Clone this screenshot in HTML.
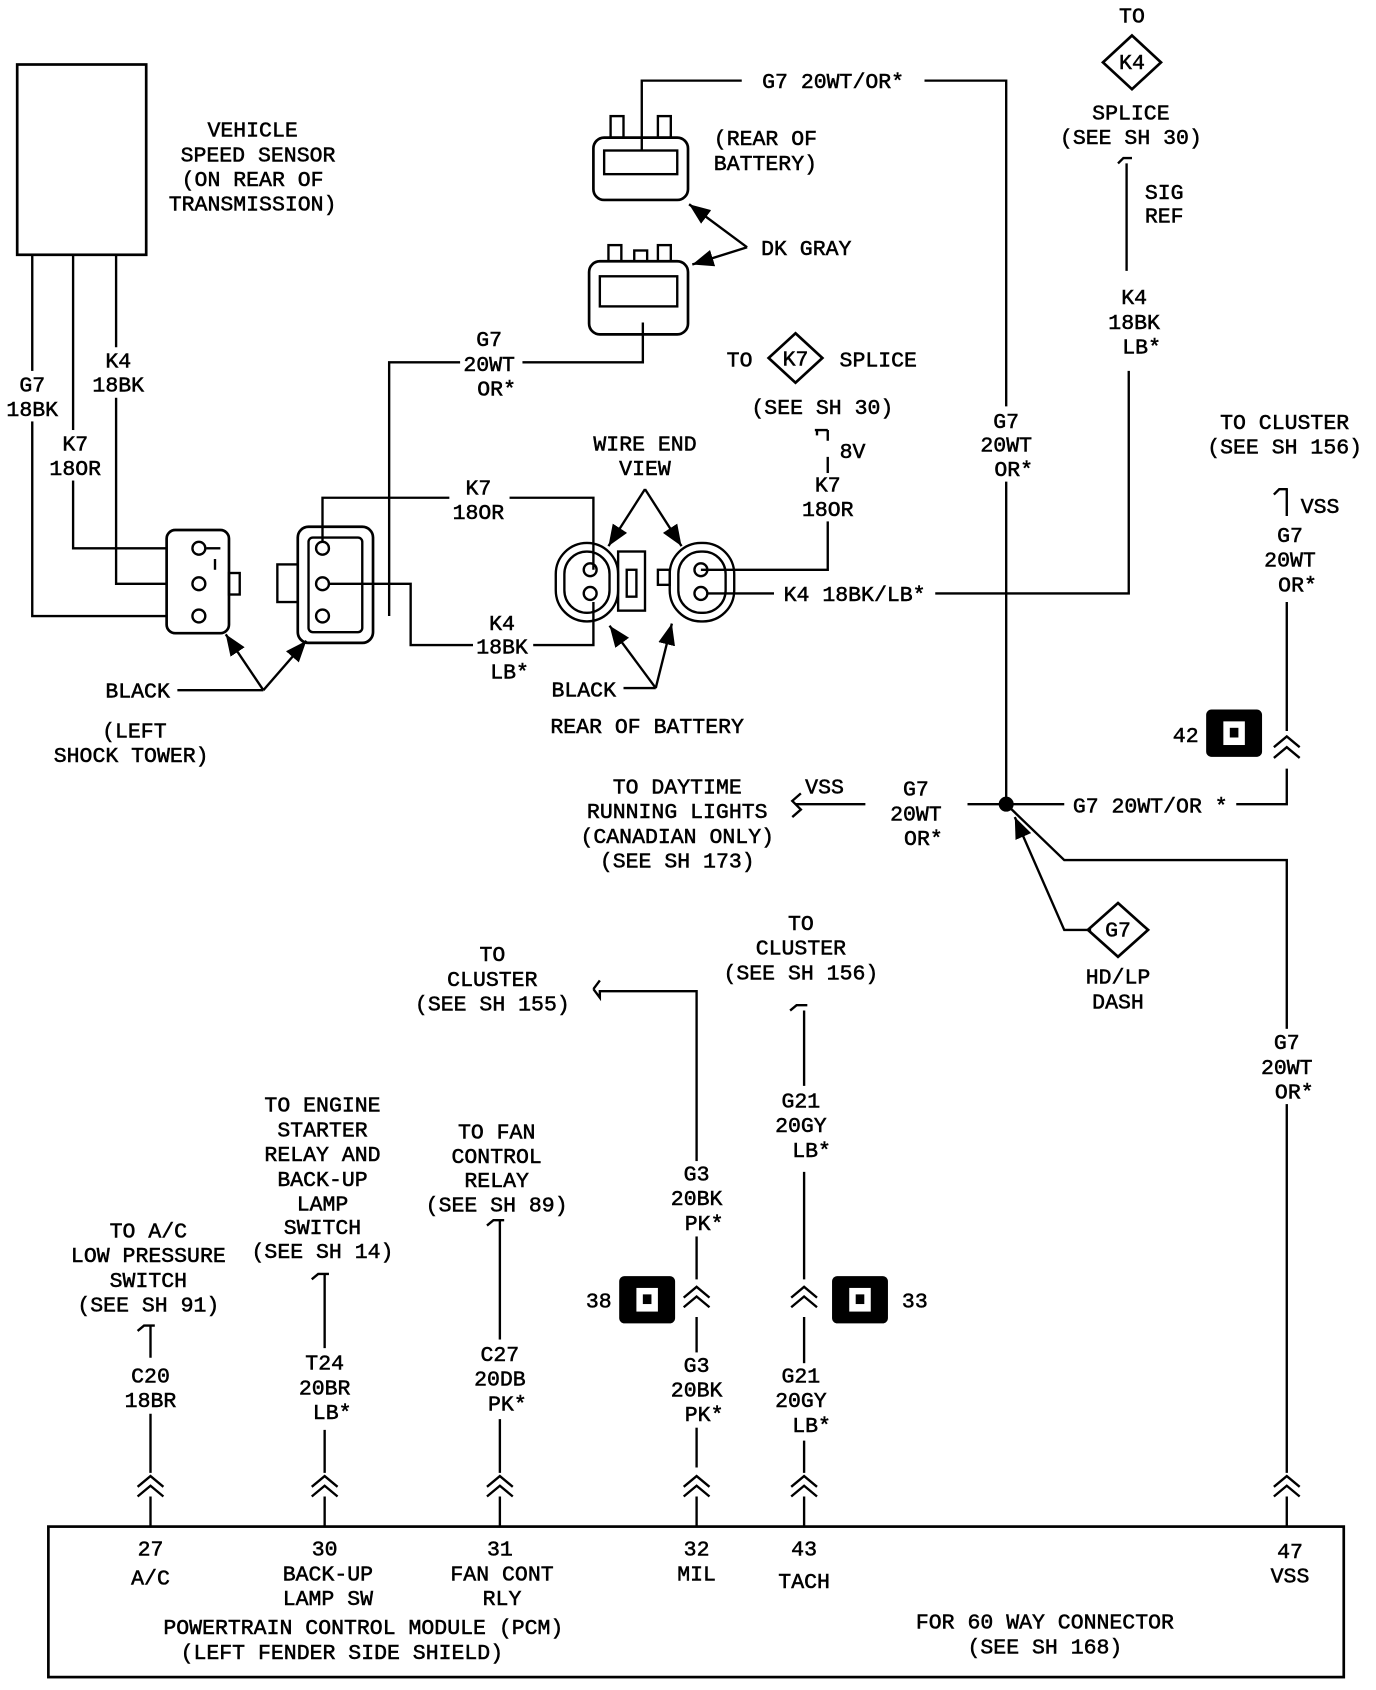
<!DOCTYPE html>
<html><head><meta charset="utf-8"><style>
html,body{margin:0;padding:0;background:#fff;}
svg{display:block}
text{font-family:"Liberation Mono","DejaVu Sans Mono",monospace;font-size:20px;fill:#000;text-anchor:middle;stroke:#000;stroke-width:0.5;}
</style></head><body>
<svg width="1376" height="1690" viewBox="0 0 1280 1572" preserveAspectRatio="none" xmlns="http://www.w3.org/2000/svg">
<defs>
<marker id="a" viewBox="0 0 10 10" refX="10" refY="5" markerWidth="9" markerHeight="9" orient="auto-start-reverse"><path d="M0,1 L10,5 L0,9 z" fill="#000"/></marker>
</defs>
<g fill="none" stroke="#000" stroke-width="2.2">
<rect x="16" y="60" width="120" height="177" stroke-width="2.5"/>
<polyline points="30,237 30,573 155,573"/>
<polyline points="68,237 68,510 155,510"/>
<polyline points="108,237 108,543 155,543"/>
<rect x="155" y="493" width="58" height="96" rx="8" stroke-width="2.5"/>
<circle cx="185" cy="510" r="6"/><circle cx="185" cy="543" r="6"/><circle cx="185" cy="573" r="6"/>
<polyline points="192,510 205,510"/><rect x="213" y="533" width="10" height="20"/><line x1="200" y1="520" x2="200" y2="530"/>
<rect x="277" y="490" width="70" height="108" rx="10" stroke-width="2.5"/>
<rect x="287" y="500" width="50" height="88" rx="4"/>
<rect x="258" y="525" width="19" height="35"/>
<circle cx="300" cy="510" r="6"/><circle cx="300" cy="543" r="6"/><circle cx="300" cy="573" r="6"/>
<polyline points="300,504 300,463 552,463 552,530"/>
<polyline points="306,543 382,543 382,600 552,600 552,560"/>
<polyline points="362,573 362,337 598,337 598,300"/>
<rect x="552" y="128" width="88" height="58" rx="10" stroke-width="2.5"/>
<rect x="562" y="140" width="68" height="22"/>
<rect x="568" y="108" width="12" height="20"/><rect x="612" y="108" width="12" height="20"/>
<rect x="548" y="243" width="92" height="68" rx="10" stroke-width="2.5"/>
<rect x="558" y="257" width="72" height="28"/>
<rect x="566" y="228" width="12" height="15"/><rect x="612" y="228" width="12" height="15"/><rect x="590" y="233" width="12" height="10"/>
<polyline points="597,140 597,75 690,75"/>
<polyline points="860,75 936,75 936,748"/>
<line x1="695" y1="230" x2="641" y2="190" marker-end="url(#a)"/>
<line x1="695" y1="230" x2="644" y2="246" marker-end="url(#a)"/>
<polygon points="740,310 765,333 740,356 715,333" stroke-width="2.5"/>
<path d="M758,400 h12 M770,400 v10 M770,425 v105 H680"/>
<line x1="760" y1="400" x2="760" y2="405"/>
<rect x="517" y="505" width="58" height="73" rx="29"/>
<rect x="525" y="513" width="42" height="57" rx="21"/>
<rect x="575" y="513" width="25" height="55"/>
<rect x="583" y="530" width="9" height="25"/>
<rect x="623" y="505" width="60" height="73" rx="29"/>
<rect x="631" y="513" width="44" height="57" rx="21"/>
<rect x="612" y="530" width="11" height="14"/>
<circle cx="549" cy="530" r="6"/><circle cx="549" cy="552" r="6"/>
<circle cx="652" cy="530" r="6"/><circle cx="652" cy="552" r="6"/>
<line x1="600" y1="455" x2="566" y2="508" marker-end="url(#a)"/>
<line x1="600" y1="455" x2="634" y2="508" marker-end="url(#a)"/>
<polyline points="652,530 680,530"/>
<polyline points="658,552 720,552"/>
<polyline points="870,552 1050,552 1050,345"/>
<polyline points="165,642 245,642"/>
<line x1="245" y1="642" x2="210" y2="590" marker-end="url(#a)"/>
<line x1="245" y1="642" x2="285" y2="596" marker-end="url(#a)"/>
<line x1="610" y1="640" x2="567" y2="582" marker-end="url(#a)"/>
<line x1="610" y1="640" x2="625" y2="580" marker-end="url(#a)"/>
<line x1="580" y1="640" x2="610" y2="640"/>
<polygon points="1053,33 1080,58 1053,83 1026,58" stroke-width="2.5"/>
<path d="M1040,152 l5,-5 h8 M1048,152 v100"/>
<path d="M1185,460 l5,-5 h8 M1197,455 v25 M1197,560 v120 M1197,715 V748 H1150"/>
<path d="M1185,695 l12,-10 l12,10 M1185,705 l12,-10 l12,10"/>
<line x1="900" y1="748" x2="990" y2="748"/>
<polyline points="936,748 990,800 1197,800 1197,1370"/>
<path d="M740,748 h65 M745,738 l-8,7 l8,8 l-8,7"/>
<polyline points="1015,865 990,865 944,760" marker-end="url(#a)"/>
<polygon points="1040,840 1068,865 1040,890 1012,865" stroke-width="2.5"/>
<path d="M552,920 l6,-8 M552,920 l6,8 v-6 h90 v170 M648,1150 v40 M648,1225 v140"/>
<path d="M735,940 l6,-5 h10 M748,940 v70 M748,1090 v100 M748,1225 v50 M748,1340 v30"/>
<path d="M128,1238 l6,-5 h10 M140,1233 v30 M140,1315 v55"/>
<path d="M290,1190 l6,-5 h10 M302,1185 v70 M302,1330 v40"/>
<path d="M453,1140 l6,-5 h10 M465,1135 v115 M465,1320 v50"/>
<path d="M128,1383 l12,-10 l12,10 M128,1392 l12,-10 l12,10"/>
<path d="M290,1383 l12,-10 l12,10 M290,1392 l12,-10 l12,10"/>
<path d="M453,1383 l12,-10 l12,10 M453,1392 l12,-10 l12,10"/>
<path d="M636,1383 l12,-10 l12,10 M636,1392 l12,-10 l12,10"/>
<path d="M736,1383 l12,-10 l12,10 M736,1392 l12,-10 l12,10"/>
<path d="M1185,1383 l12,-10 l12,10 M1185,1392 l12,-10 l12,10"/>
<path d="M636,1207 l12,-10 l12,10 M636,1216 l12,-10 l12,10"/>
<path d="M736,1207 l12,-10 l12,10 M736,1216 l12,-10 l12,10"/>
<line x1="140" y1="1392" x2="140" y2="1420"/><line x1="302" y1="1392" x2="302" y2="1420"/><line x1="465" y1="1392" x2="465" y2="1420"/><line x1="648" y1="1392" x2="648" y2="1420"/><line x1="748" y1="1392" x2="748" y2="1420"/><line x1="1197" y1="1392" x2="1197" y2="1420"/>
<rect x="45" y="1420" width="1205" height="140" stroke-width="2.5"/>
</g>
<!-- label gaps -->
<g fill="#fff">
<rect x="8" y="345" width="44" height="47"/>
<rect x="88" y="323" width="44" height="47"/>
<rect x="46" y="400" width="46" height="47"/>
<rect x="910" y="378" width="54" height="70"/>
<rect x="1028" y="264" width="54" height="70"/>
<rect x="1170" y="484" width="54" height="72"/>
<rect x="1170" y="957" width="54" height="70"/>
<rect x="720" y="1012" width="52" height="70"/>
<rect x="620" y="1080" width="56" height="70"/>
<rect x="620" y="1258" width="56" height="70"/>
<rect x="720" y="1268" width="52" height="70"/>
<rect x="116" y="1266" width="50" height="48"/>
<rect x="278" y="1254" width="48" height="72"/>
<rect x="440" y="1246" width="52" height="72"/>
<rect x="428" y="306" width="58" height="66"/>
<rect x="418" y="445" width="56" height="43"/>
<rect x="440" y="570" width="56" height="67"/>
<rect x="745" y="440" width="50" height="45"/>
</g>
<circle cx="936" cy="748" r="7" fill="#000"/>
<g>
<rect x="1122" y="660" width="52" height="44" rx="5" fill="#000"/><rect x="1138" y="671" width="20" height="22" fill="#fff"/><rect x="1144" y="677" width="8" height="9" fill="#000"/>
<rect x="576" y="1187" width="52" height="44" rx="5" fill="#000"/><rect x="592" y="1198" width="20" height="22" fill="#fff"/><rect x="598" y="1204" width="8" height="9" fill="#000"/>
<rect x="774" y="1187" width="52" height="44" rx="5" fill="#000"/><rect x="790" y="1198" width="20" height="22" fill="#fff"/><rect x="796" y="1204" width="8" height="9" fill="#000"/>
</g>
<text x="235" y="127">VEHICLE</text><text x="240" y="150">SPEED SENSOR</text><text x="235" y="173">(ON REAR OF</text><text x="235" y="196">TRANSMISSION)</text>
<text x="30" y="364">G7</text><text x="30" y="387">18BK</text>
<text x="110" y="342">K4</text><text x="110" y="364">18BK</text>
<text x="70" y="419">K7</text><text x="70" y="442">18OR</text>
<text x="128" y="649">BLACK</text>
<text x="125" y="686">(LEFT</text><text x="122" y="709">SHOCK TOWER)</text>
<text x="712" y="135">(REAR OF</text><text x="712" y="158">BATTERY)</text>
<text x="775" y="82">G7 20WT/OR*</text>
<text x="750" y="237">DK GRAY</text>
<text x="455" y="322">G7</text><text x="455" y="345">20WT</text><text x="462" y="368">OR*</text>
<text x="688" y="341">TO</text><text x="740" y="340" font-size="17">K7</text><text x="817" y="341">SPLICE</text>
<text x="765" y="385">(SEE SH 30)</text><text x="793" y="426">8V</text>
<text x="770" y="457">K7</text><text x="770" y="480">18OR</text>
<text x="600" y="419">WIRE END</text><text x="600" y="442">VIEW</text>
<text x="445" y="460">K7</text><text x="445" y="483">18OR</text>
<text x="467" y="586">K4</text><text x="467" y="608">18BK</text><text x="474" y="631">LB*</text>
<text x="543" y="648">BLACK</text>
<text x="602" y="682">REAR OF BATTERY</text>
<text x="795" y="559">K4 18BK/LB*</text>
<text x="1053" y="21">TO</text><text x="1053" y="64" font-size="17">K4</text>
<text x="1052" y="111">SPLICE</text><text x="1052" y="134">(SEE SH 30)</text>
<text x="1083" y="185">SIG</text><text x="1083" y="207">REF</text>
<text x="1055" y="283">K4</text><text x="1055" y="306">18BK</text><text x="1062" y="329">LB*</text>
<text x="936" y="398">G7</text><text x="936" y="420">20WT</text><text x="943" y="443">OR*</text>
<text x="1195" y="399">TO CLUSTER</text><text x="1195" y="422">(SEE SH 156)</text>
<text x="1228" y="477">VSS</text>
<text x="1200" y="504">G7</text><text x="1200" y="527">20WT</text><text x="1207" y="550">OR*</text>
<text x="1103" y="690">42</text>
<text x="1070" y="756">G7 20WT/OR *</text>
<text x="852" y="740">G7</text><text x="852" y="763">20WT</text><text x="859" y="786">OR*</text>
<text x="767" y="738">VSS</text>
<text x="630" y="738">TO DAYTIME</text><text x="630" y="761">RUNNING LIGHTS</text><text x="630" y="784">(CANADIAN ONLY)</text><text x="630" y="807">(SEE SH 173)</text>
<text x="1040" y="871" font-size="17">G7</text>
<text x="1040" y="915">HD/LP</text><text x="1040" y="938">DASH</text>
<text x="1197" y="976">G7</text><text x="1197" y="999">20WT</text><text x="1204" y="1022">OR*</text>
<text x="458" y="894">TO</text><text x="458" y="917">CLUSTER</text><text x="458" y="940">(SEE SH 155)</text>
<text x="745" y="865">TO</text><text x="745" y="888">CLUSTER</text><text x="745" y="911">(SEE SH 156)</text>
<text x="745" y="1030">G21</text><text x="745" y="1053">20GY</text><text x="755" y="1076">LB*</text>
<text x="648" y="1098">G3</text><text x="648" y="1121">20BK</text><text x="655" y="1144">PK*</text>
<text x="557" y="1216">38</text><text x="851" y="1216">33</text>
<text x="648" y="1276">G3</text><text x="648" y="1299">20BK</text><text x="655" y="1322">PK*</text>
<text x="745" y="1286">G21</text><text x="745" y="1309">20GY</text><text x="755" y="1332">LB*</text>
<text x="300" y="1034">TO ENGINE</text><text x="300" y="1057">STARTER</text><text x="300" y="1080">RELAY AND</text><text x="300" y="1103">BACK-UP</text><text x="300" y="1126">LAMP</text><text x="300" y="1148">SWITCH</text><text x="300" y="1170">(SEE SH 14)</text>
<text x="462" y="1059">TO FAN</text><text x="462" y="1082">CONTROL</text><text x="462" y="1104">RELAY</text><text x="462" y="1127">(SEE SH 89)</text>
<text x="138" y="1151">TO A/C</text><text x="138" y="1174">LOW PRESSURE</text><text x="138" y="1197">SWITCH</text><text x="138" y="1220">(SEE SH 91)</text>
<text x="140" y="1286">C20</text><text x="140" y="1309">18BR</text>
<text x="302" y="1274">T24</text><text x="302" y="1297">20BR</text><text x="309" y="1320">LB*</text>
<text x="465" y="1266">C27</text><text x="465" y="1289">20DB</text><text x="472" y="1312">PK*</text>
<text x="140" y="1447">27</text><text x="140" y="1474">A/C</text>
<text x="302" y="1447">30</text><text x="305" y="1470">BACK-UP</text><text x="305" y="1493">LAMP SW</text>
<text x="465" y="1447">31</text><text x="467" y="1470">FAN CONT</text><text x="467" y="1493">RLY</text>
<text x="648" y="1447">32</text><text x="648" y="1470">MIL</text>
<text x="748" y="1447">43</text><text x="748" y="1477">TACH</text>
<text x="1200" y="1449">47</text><text x="1200" y="1472">VSS</text>
<text x="338" y="1520">POWERTRAIN CONTROL MODULE (PCM)</text>
<text x="318" y="1543">(LEFT FENDER SIDE SHIELD)</text>
<text x="972" y="1515">FOR 60 WAY CONNECTOR</text>
<text x="972" y="1538">(SEE SH 168)</text>
</svg>
</body></html>
